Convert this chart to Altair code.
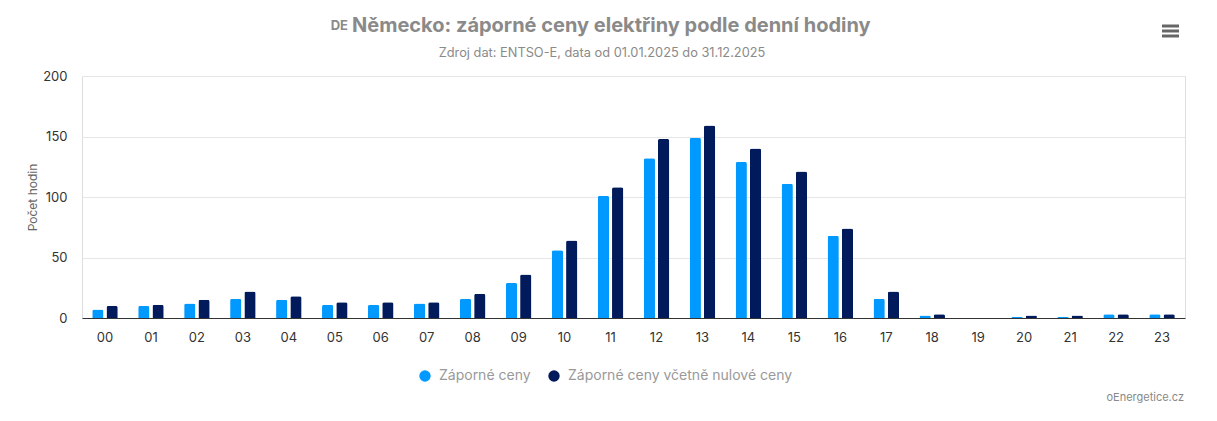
import altair as alt
import pandas as pd

hours = ["00", "01", "02", "03", "04", "05", "06", "07", "08", "09", "10", "11",
         "12", "13", "14", "15", "16", "17", "18", "19", "20", "21", "22", "23"]
negative = [7, 10, 12, 16, 15, 11, 11, 12, 16, 29, 56, 101,
            132, 149, 129, 111, 68, 16, 2, 0, 1, 1, 3, 3]
negative_or_zero = [10, 11, 15, 22, 18, 13, 13, 13, 20, 36, 64, 108,
                    148, 159, 140, 121, 74, 22, 3, 0, 2, 2, 3, 3]
series_names = ["Záporné ceny", "Záporné ceny včetně nulové ceny"]
series_colors = ["#0099FF", "#001A5B"]

rows = []
for h, a, b in zip(hours, negative, negative_or_zero):
    rows.append({"hodina": h, "serie": series_names[0], "hodnota": a})
    rows.append({"hodina": h, "serie": series_names[1], "hodnota": b})
df = pd.DataFrame(rows)

FONT = "Inter"

bars = alt.Chart(df).mark_bar(cornerRadiusTopLeft=2, cornerRadiusTopRight=2).encode(
    x=alt.X("hodina:N", sort=hours,
            scale=alt.Scale(paddingInner=0.445, paddingOuter=0.2225),
            axis=alt.Axis(title=None, labelAngle=0, ticks=False, labelPadding=13,
                          labelFontSize=13, labelColor="#333333", labelFont=FONT,
                          domainColor="#333333", domainWidth=1, grid=False)),
    xOffset=alt.XOffset("serie:N", sort=series_names,
                        scale=alt.Scale(paddingInner=0.21, paddingOuter=0)),
    y=alt.Y("hodnota:Q",
            scale=alt.Scale(domain=[0, 200], nice=False),
            axis=alt.Axis(values=[0, 50, 100, 150, 200], title="Počet hodin",
                          titleFont=FONT, titleFontSize=12, titleFontWeight="normal",
                          titleColor="#666666", titleX=-50, titleY=121,
                          titleAngle=-90, titleBaseline="middle", titleAlign="center",
                          labelFontSize=13, labelColor="#333333", labelFont=FONT,
                          labelPadding=15, ticks=False, domain=False,
                          gridColor="#e6e6e6", gridWidth=1)),
    color=alt.Color("serie:N", sort=series_names,
                    scale=alt.Scale(domain=series_names, range=series_colors),
                    legend=alt.Legend(title=None, orient="none", direction="horizontal",
                                      legendX=336, legendY=293, symbolType="circle",
                                      symbolSize=130, symbolStrokeWidth=0,
                                      labelFont=FONT, labelFontSize=14, labelLimit=0,
                                      labelColor="#999999", columnPadding=16,
                                      labelOffset=7)),
)

def label(text, x, y, size, color, weight="normal", align="center"):
    return alt.Chart(pd.DataFrame({"t": [text]})).mark_text(
        font=FONT, fontSize=size, color=color, fontWeight=weight, align=align,
        baseline="middle").encode(text="t:N", x=alt.value(x), y=alt.value(y))

title_de = label("DE", 266, -50, 13, "#8a8a8a", "bold", "right")
title_main = label("Německo: záporné ceny elektřiny podle denní hodiny", 270, -50, 20,
                   "#8a8a8a", "bold", "left")
subtitle = label("Zdroj dat: ENTSO-E, data od 01.01.2025 do 31.12.2025", 520, -23, 12.8,
                 "#8a8a8a")
credit = label("oEnergetice.cz", 1102, 322, 11, "#888888", "normal", "right")

menu = [
    alt.Chart(pd.DataFrame({"k": [0]})).mark_rule(color="#666666", strokeWidth=3).encode(
        x=alt.value(1080), x2=alt.value(1097), y=alt.value(yy))
    for yy in (-50, -45, -40)
]

chart = alt.layer(bars, title_de, title_main, subtitle, credit, *menu).properties(
    width=1103, height=242,
    autosize=alt.AutoSizeParams(type="none"),
    padding={"left": 74, "top": 68, "right": 24, "bottom": 95},
).configure_view(stroke=None).configure(background="white")

chart.save("out.html", embed_options={"renderer": "svg", "actions": False})
